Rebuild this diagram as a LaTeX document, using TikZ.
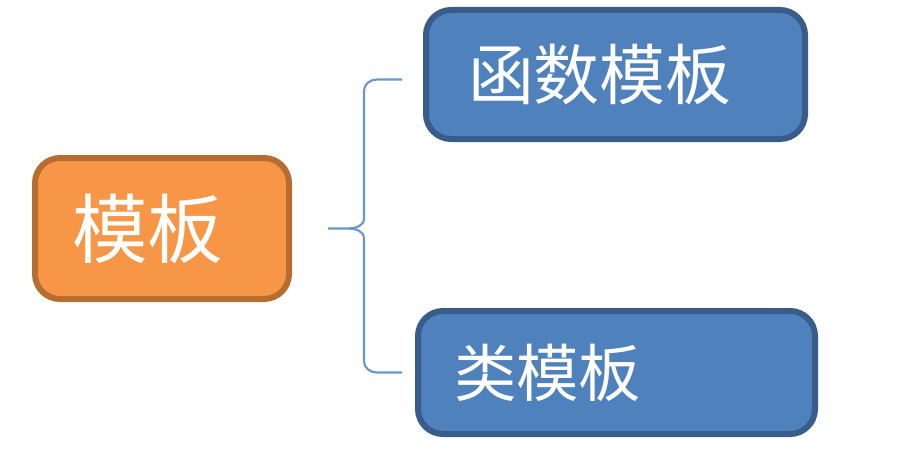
\documentclass[tikz,border=0pt]{standalone}
\usepackage{fontspec}
\newfontfamily\cjk{Noto Sans CJK SC}
\definecolor{orangefill}{HTML}{F79646}
\definecolor{orangeline}{HTML}{B66D31}
\definecolor{bluefill}{HTML}{4F81BD}
\definecolor{blueline}{HTML}{385D8A}
\definecolor{braceblue}{HTML}{6A96CE}
\tikzset{
    box/.style={draw,line width=0.12cm,rounded corners=0.5cm,align=left,
        text=white,inner ysep=0pt,font=\cjk},
    rootbox/.style={box,fill=orangefill,draw=orangeline},
    leafbox/.style={box,fill=bluefill,draw=blueline},
    braceline/.style={draw=braceblue,line width=1.2pt}
}
\begin{document}
\begin{tikzpicture}
    \useasboundingbox (0,0) rectangle (18.16,9);
    \node[rootbox,inner xsep=0.74cm,text width=3.6cm,minimum height=2.82cm]
        (tmpl) at (3.24,4.43) {\fontsize{43}{50}\selectfont 模板};
    \node[leafbox,inner xsep=0.84cm,text width=5.9cm,minimum height=2.58cm]
        (fn) at (12.31,7.51) {\fontsize{37.5}{43}\selectfont 函数模板};
    \node[leafbox,inner xsep=0.72cm,text width=6.5cm,minimum height=2.46cm]
        (cls) at (12.33,1.55) {\fontsize{35.5}{42}\selectfont 类模板};
    % brace
    \coordinate (tip) at ([xshift=0.72cm]tmpl.east);
    \coordinate (top) at ([xshift=-0.42cm,yshift=-0.1cm]fn.west);
    \coordinate (bot) at ([xshift=-0.26cm]cls.west);
    \coordinate (cusp) at ([xshift=0.42cm]tip);
    \draw[braceline] (top) -- ++(-0.5,0) to[out=180,in=90] ++(-0.26,-0.22)
        |- ([xshift=0.3cm,yshift=0.2cm]cusp) to[out=-90,in=0] (cusp) -- (tip);
    \draw[braceline] (cusp) to[out=0,in=90] ++(0.3,-0.2)
        -- ([xshift=-0.76cm,yshift=0.22cm]bot) to[out=-90,in=180] ++(0.26,-0.22) -- (bot);
\end{tikzpicture}
\end{document}
